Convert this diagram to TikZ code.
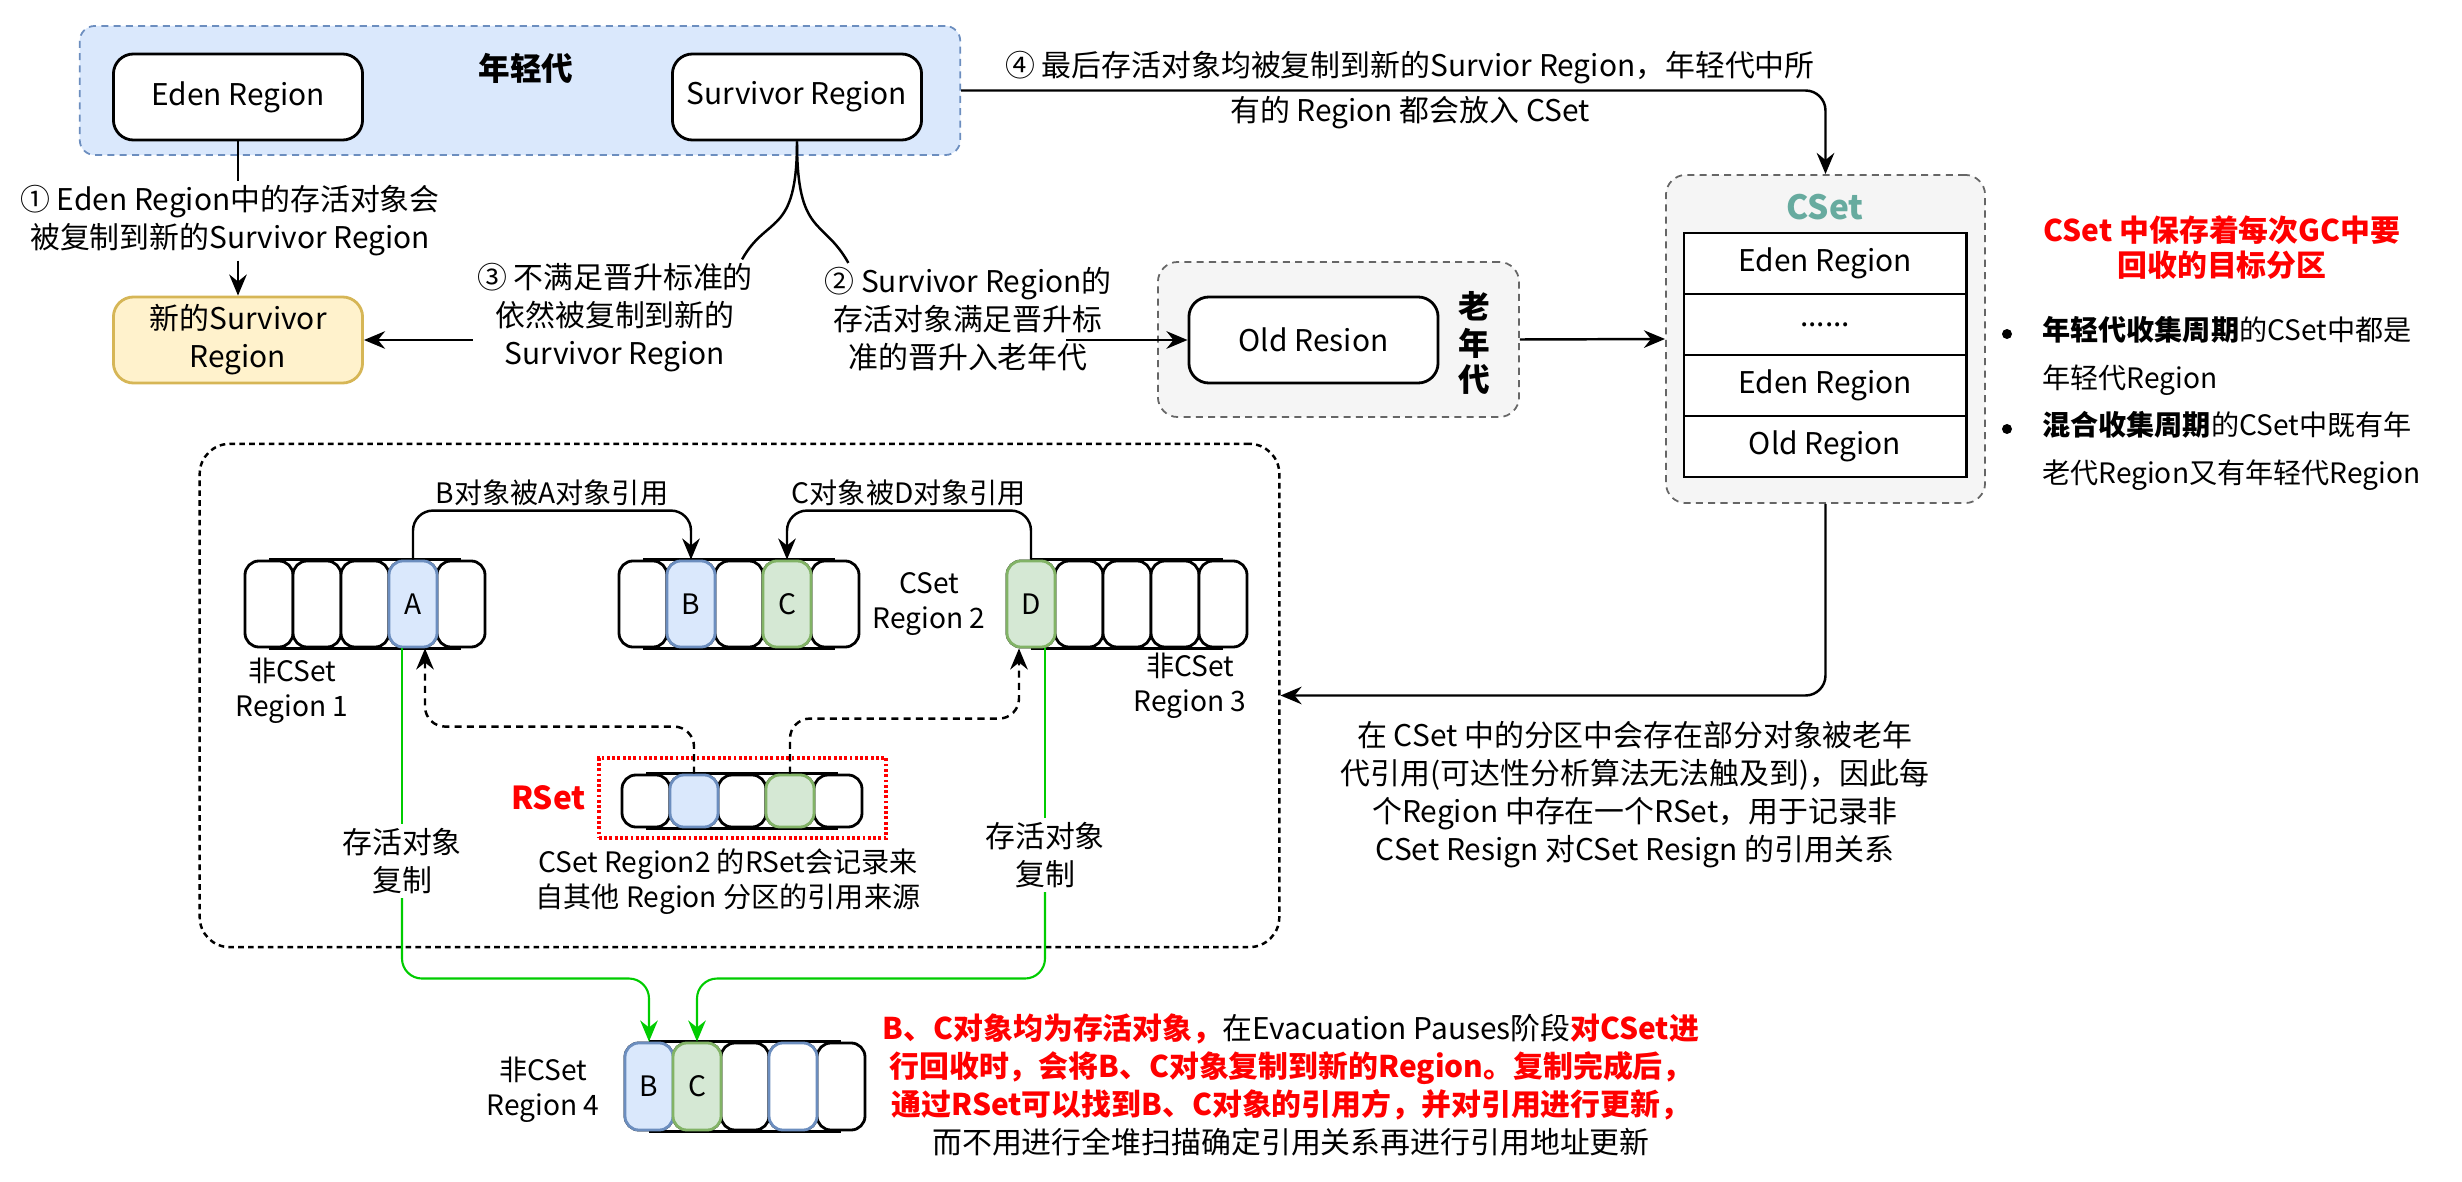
\documentclass[tikz,border=0pt]{standalone}
\usepackage{fontspec}
\setmainfont{Noto Sans CJK SC}
\usetikzlibrary{arrows.meta,positioning}
\definecolor{youngfill}{HTML}{DAE8FC}
\definecolor{youngdraw}{HTML}{6C8EBF}
\definecolor{newfill}{HTML}{FFF2CC}
\definecolor{newdraw}{HTML}{D6B656}
\definecolor{grayfill}{HTML}{F5F5F5}
\definecolor{graydraw}{HTML}{666666}
\definecolor{csetcol}{HTML}{67AB9F}
\definecolor{greenfill}{HTML}{D5E8D4}
\definecolor{greendraw}{HTML}{82B366}
\definecolor{copygreen}{HTML}{00CC00}
\tikzset{
    txt/.style={font=\fontsize{8.5}{10.8}\selectfont, align=center, inner sep=1pt},
    smalltxt/.style={font=\fontsize{8}{10}\selectfont, align=center, inner sep=1pt},
    titletxt/.style={font=\fontsize{9}{10.5}\selectfont\bfseries, align=center, inner sep=1pt},
    regionbox/.style={txt, draw, fill=white, line width=0.8pt, rounded corners=0.2cm,
        minimum width=2.49cm, minimum height=0.86cm},
    younggen/.style={draw=youngdraw, fill=youngfill, line width=0.5pt,
        dash pattern=on 2pt off 1.5pt, rounded corners=0.15cm},
    gengroup/.style={draw=graydraw, fill=grayfill, line width=0.5pt,
        dash pattern=on 2pt off 1.5pt, rounded corners=0.2cm},
    csetrow/.style={txt, draw, fill=white, line width=0.8pt,
        minimum width=2.82cm, minimum height=0.61cm},
    cell/.style={draw, fill=white, line width=0.8pt, rounded corners=0.14cm,
        minimum width=0.48cm, inner sep=0pt, font=\fontsize{8}{10}\selectfont},
    bcell/.style={fill=youngfill, draw=youngdraw},
    gcell/.style={fill=greenfill, draw=greendraw},
    plain/.style={line width=0.7pt},
    arr/.style={line width=0.7pt, -{Stealth[length=6pt,width=5pt,inset=2pt]}},
    darr/.style={arr, dash pattern=on 2pt off 1.5pt},
    gline/.style={draw=copygreen, line width=0.6pt},
    garr/.style={gline, -{Stealth[length=6pt,width=5pt,inset=2pt]}},
    dot/.style={circle, fill=black, inner sep=0pt, minimum size=0.1cm},
    itemtxt/.style={txt, font=\fontsize{8}{10}\selectfont, align=left, anchor=west},
}
\newcommand{\redbf}[1]{\textcolor{red}{\bfseries #1}}
\newcommand{\rowdots}{......}
% one row of five cells: name, left x, centre y, height
\newcommand{\cellrow}[4]{%
    \foreach \i in {1,...,5}
        \node[cell,minimum height=#4] (#1\i) at ({#2+48*\i-24},#3) {};
    \draw[line width=1pt] (#11.north) -- (#15.north) (#11.south) -- (#15.south);
}

\begin{document}
\begin{tikzpicture}[x=0.01cm,y=-0.01cm]
\useasboundingbox (0,0) rectangle (2462,1182);

% young generation
\node[younggen,minimum width=8.8cm,minimum height=1.29cm] (young) at (520,90.5) {};
\node[titletxt] (younglab) at (526,68) {年轻代};
\node[regionbox] (eden) at (238,97) {Eden Region};
\node[regionbox] (surv) at (797,97) {Survivor Region};
\node[regionbox,fill=newfill,draw=newdraw] (newsurv) at (238,340) {新的Survivor\\Region};

\node[txt] (step1) at (230,221) {① Eden Region中的存活对象会\\被复制到新的Survivor Region};
\draw[plain] (eden.south) -- (eden.south |- step1.north);
\draw[arr] (step1.south -| newsurv.north) -- (newsurv.north);

\node[txt] (step3) at (615,318) {③ 不满足晋升标准的\\依然被复制到新的\\Survivor Region};
\node[txt] (step2) at (968,319) {② Survivor Region的\\存活对象满足晋升标\\准的晋升入老年代};
\draw[plain] (surv.south) .. controls +(0,95) and +(25,-45) .. ([xshift=-0.15cm]step3.north east);
\draw[plain] (surv.south) .. controls +(0,95) and +(-25,-45) .. ([xshift=0.28cm]step2.north west);
\draw[arr] (step3.west |- newsurv.east) -- (newsurv.east);

% old generation
\node[gengroup,minimum width=3.61cm,minimum height=1.55cm] (oldgen) at (1338.5,339.5) {};
\node[regionbox] (old) at (1313.5,340) {Old Resion};
\node[titletxt] (oldlab) at (1474,343) {老\\年\\代};
\draw[arr] ([xshift=-1.21cm]old.west) -- (old.west);

% collection set
\node[gengroup,minimum width=3.19cm,minimum height=3.28cm] (cset) at (1825.5,339) {};
\node[titletxt,text=csetcol,font=\fontsize{9.5}{11}\selectfont\bfseries] (csetlab) at (1825,207) {CSet};
\foreach \t [count=\i] in {Eden Region,\rowdots,Eden Region,Old Region}
    \node[csetrow] (row\i) at (1825,{202.5+61*\i}) {\t};
\draw[arr] (oldgen.east) -- (cset.west);
\draw[arr,rounded corners=0.2cm] (young.east) -| (cset.north);
\node[txt] (step4) at (1410,90) {④ 最后存活对象均被复制到新的Survior Region，年轻代中所\\[2pt]有的 Region 都会放入 CSet};

\node[txt,text=red,font=\fontsize{8.5}{10}\selectfont\bfseries] (csetnote) at (2222,248) {CSet 中保存着每次GC中要\\回收的目标分区};
\node[dot] (dot1) at (2007,334) {};
\node[itemtxt] (item1) at (2038,356) {\textbf{年轻代收集周期}的CSet中都是\\[3.5pt]年轻代Region};
\node[dot] (dot2) at (2007,429) {};
\node[itemtxt] (item2) at (2038,451) {\textbf{混合收集周期}的CSet中既有年\\[3.5pt]老代Region又有年轻代Region};

% remembered set
\node[draw,line width=0.7pt,dash pattern=on 1.6pt off 1.2pt,rounded corners=0.3cm,
    minimum width=10.79cm,minimum height=5.03cm] (refs) at (739.5,695.5) {};
\draw[arr,rounded corners=0.2cm] (cset.south) |- (refs.east);
\node[txt] (rsetnote) at (1635,795) {在 CSet 中的分区中会存在部分对象被老年\\代引用(可达性分析算法无法触及到)，因此每\\个Region 中存在一个RSet，用于记录非\\CSet Resign 对CSet Resign 的引用关系};

\cellrow{ra}{245}{604}{0.86cm}
\cellrow{rb}{619}{604}{0.86cm}
\cellrow{rc}{1007}{604}{0.86cm}
\node[cell,bcell,minimum height=0.86cm] (A) at (ra4) {A};
\node[cell,bcell,minimum height=0.86cm] (B) at (rb2) {B};
\node[cell,gcell,minimum height=0.86cm] (C) at (rb4) {C};
\node[cell,gcell,minimum height=0.86cm] (D) at (rc1) {D};
\node[smalltxt] (r1lab) at (292,691) {非CSet\\Region 1};
\node[smalltxt] (r2lab) at (929,604) {CSet\\Region 2};
\node[smalltxt] (r3lab) at (1190,686) {非CSet\\Region 3};

\draw[arr,rounded corners=0.2cm] (A.north) -- ++(0,-49) -| node[pos=0.25,above,smalltxt] (ab) {B对象被A对象引用} (B.north);
\draw[arr,rounded corners=0.2cm] (D.north) -- ++(0,-49) -| node[pos=0.25,above,smalltxt] (dc) {C对象被D对象引用} (C.north);

\node[draw=red,line width=1.1pt,dash pattern=on 0.8pt off 0.7pt,minimum width=2.87cm,minimum height=0.8cm] (rset) at (742.5,798) {};
\cellrow{rs}{622}{801}{0.52cm}
\node[cell,bcell,minimum height=0.52cm] (rsb) at (rs2) {};
\node[cell,gcell,minimum height=0.52cm] (rsc) at (rs4) {};
\node[txt,text=red,font=\fontsize{9}{11}\selectfont\bfseries,left=2pt of rset] (rsetlab) {RSet};
\node[smalltxt] (rsetcap) at (728,882) {CSet Region2 的RSet会记录来\\自其他 Region 分区的引用来源};
\draw[darr,rounded corners=0.2cm] (rsb.north) -- ++(0,-47) -| ([xshift=0.12cm]A.south);
\draw[darr,rounded corners=0.2cm] (rsc.north) -- ++(0,-55) -| ([xshift=-0.12cm]D.south);

% evacuation into region 4
\cellrow{rd}{625}{1086.5}{0.87cm}
\node[cell,bcell,minimum height=0.87cm] (B4) at (rd1) {B};
\node[cell,gcell,minimum height=0.87cm] (C4) at (rd2) {C};
\node[cell,draw=youngdraw,minimum height=0.87cm] (rd4b) at (rd4) {};
\node[smalltxt] (r4lab) at (543,1090) {非CSet\\Region 4};

\node[txt] (copyl) at (402,861) {存活对象\\复制};
\node[txt] (copyr) at (1045,855) {存活对象\\复制};
\draw[gline] (copyl.north |- A.south) -- (copyl.north);
\draw[garr,rounded corners=0.2cm] (copyl.south) |- ([yshift=0.63cm]B4.north) -- (B4.north);
\draw[gline] (copyr.north |- D.south) -- (copyr.north);
\draw[garr,rounded corners=0.2cm] (copyr.south) |- ([yshift=0.63cm]C4.north) -- (C4.north);

\node[txt] (evacnote) at (1291,1085) {\redbf{B、C对象均为存活对象，}在Evacuation Pauses阶段\redbf{对CSet进}\\\redbf{行回收时，会将B、C对象复制到新的Region。复制完成后，}\\\redbf{通过RSet可以找到B、C对象的引用方，并对引用进行更新，}\\而不用进行全堆扫描确定引用关系再进行引用地址更新};
\end{tikzpicture}
\end{document}
